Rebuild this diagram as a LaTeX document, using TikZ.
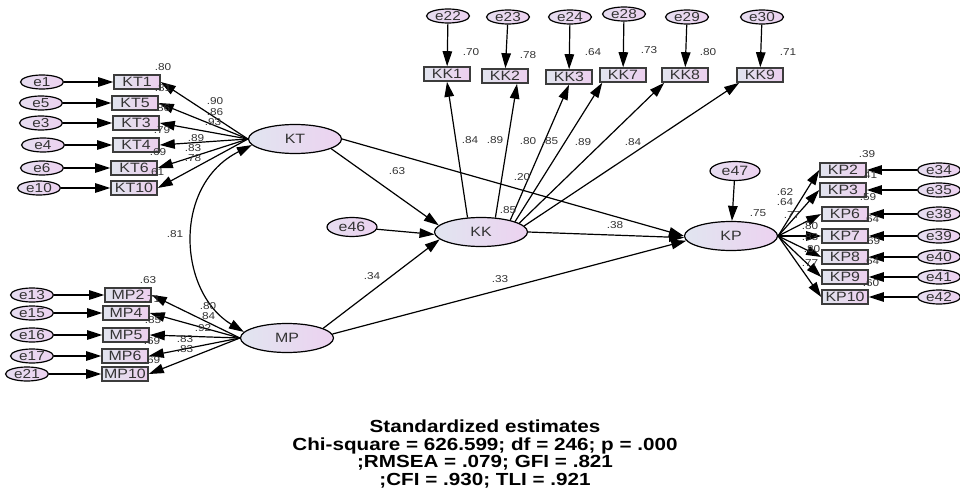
\documentclass[tikz,border=0pt]{standalone}
\usepackage{fontspec}
\setmainfont[FakeStretch=1.18]{Liberation Sans}
\usetikzlibrary{shapes.geometric,arrows.meta}
\definecolor{latL}{HTML}{E1E5F0}
\definecolor{latR}{HTML}{ECD2F0}
\definecolor{errL}{HTML}{E6DDF0}
\definecolor{boxL}{HTML}{E1E4EE}
\definecolor{boxR}{HTML}{ECCFEE}
\definecolor{bdr}{HTML}{3C3C3C}
\definecolor{txt}{HTML}{333333}
\begin{document}
\begin{tikzpicture}[x=1pt,y=-1pt,
 lat/.style={ellipse,draw=black,line width=1.2pt,left color=latL,right color=latR,minimum width=93pt,minimum height=29pt,inner sep=0pt,text=txt,font=\fontsize{13.5}{13.5}\selectfont},
 err/.style={ellipse,draw=black,line width=1.2pt,left color=errL,right color=latR,minimum width=43pt,minimum height=14pt,inner sep=0pt,text=txt,font=\fontsize{13}{13}\selectfont},
 bigerr/.style={err,minimum width=50pt,minimum height=19pt,font=\fontsize{13.5}{13.5}\selectfont},
 obs/.style={rectangle,draw=bdr,line width=1.6pt,left color=boxL,right color=boxR,minimum width=46pt,minimum height=14pt,inner sep=0pt,text=txt,font=\fontsize{13.5}{13.5}\selectfont},
 arr/.style={-{Triangle[length=15pt,width=9.5pt]},line width=1.2pt},
 darr/.style={{Triangle[length=15pt,width=9.5pt]}-{Triangle[length=15pt,width=9.5pt]},line width=1.2pt},
 lab/.style={inner sep=0pt,text=txt,font=\fontsize{10}{10}\selectfont}]
\useasboundingbox (0,0) rectangle (960,495);

% latent variables
\node[lat] (KT) at (295,139) {KT};
\node[lat] (KK) at (481,232) {KK};
\node[lat] (KP) at (731,236) {KP};
\node[lat] (MP) at (287,338) {MP};
\node[bigerr] (e46) at (352,227) {e46};
\node[bigerr] (e47) at (735,171) {e47};

% KT indicators
\foreach \e/\b/\ex/\bx/\y in {e1/KT1/42/137/82, e5/KT5/41/135/103, e3/KT3/41/136/123, e4/KT4/43/136/145, e6/KT6/42/134/168, e10/KT10/39/134/188}{
  \node[err] (\e) at (\ex,\y) {\e};
  \node[obs] (\b) at (\bx,\y) {\b};
  \draw[arr] (\e) -- (\b);
  \draw[arr] (KT.west) -- (\b.east);
}
% MP indicators
\foreach \e/\b/\ex/\bx/\y in {e13/MP2/32/128/295, e15/MP4/32/126/313, e16/MP5/32/126/335, e17/MP6/32/125/356, e21/MP10/27/125/374}{
  \node[err] (\e) at (\ex,\y) {\e};
  \node[obs] (\b) at (\bx,\y) {\b};
  \draw[arr] (\e) -- (\b);
  \draw[arr] (MP.west) -- (\b.east);
}
% KP indicators
\foreach \e/\b/\bx/\y in {e34/KP2/843/170, e35/KP3/843/190, e38/KP6/845/214, e39/KP7/845/236, e40/KP8/845/257, e41/KP9/845/277, e42/KP10/845/297}{
  \node[err] (\e) at (939,\y) {\e};
  \node[obs] (\b) at (\bx,\y) {\b};
  \draw[arr] (\e) -- (\b);
  \draw[arr] (KP.east) -- (\b.west);
}
% KK indicators
\foreach \e/\b/\ex/\bx/\ey/\by in {e22/KK1/448/447/16/74, e23/KK2/508/505/17/76, e24/KK3/570/569/17/77, e28/KK7/624/623/14/75, e29/KK8/687/685/17/75, e30/KK9/762/760/17/75}{
  \node[err] (\e) at (\ex,\ey) {\e};
  \node[obs] (\b) at (\bx,\by) {\b};
  \draw[arr] (\e) -- (\b);
}
\draw[arr] (KK.133) -- (KK1.south);
\draw[arr] (KK.45) -- ([xshift=12pt]KK2.south);
\draw[arr] (KK.22) -- (KK3.south);
\draw[arr] (KK.17) -- ([xshift=3pt]KK7.south west);
\draw[arr] (KK.13) -- ([xshift=3pt]KK8.south west);
\draw[arr] (KK.8) -- ([xshift=3pt]KK9.south west);

% structural paths
\draw[darr] (KT.188) .. controls (172,185) and (178,292) .. (MP.172);
\draw[arr] (KT.-15) -- (KK.171);
\draw[arr] (KT.east) -- (KP.west);
\draw[arr] (e46) -- (KK.183);
\draw[arr] (MP.15) -- (KK.190);
\draw[arr] (MP.5) -- (KP.186);
\draw[arr] (KK.east) -- (KP.182);
\draw[arr] (e47) -- (KP);

% labels: KT
\node[lab] (l1) at (163,67) {.80};
\node[lab] (l2) at (163,88) {.81};
\node[lab] (l3) at (162,108) {.86};
\node[lab] (l4) at (162,130) {.79};
\node[lab] (l5) at (158,152) {.69};
\node[lab] (l6) at (156,172) {.61};
\node[lab] (l7) at (215,101) {.90};
\node[lab] (l8) at (215,112) {.86};
\node[lab] (l9) at (213,122) {.93};
\node[lab] (l10) at (196,138) {.89};
\node[lab] (l11) at (193,148) {.83};
\node[lab] (l12) at (193,158) {.78};
% labels: MP
\node[lab] (l13) at (148,280) {.63};
\node[lab] (l14) at (152,299) {.71};
\node[lab] (l15) at (153,320) {.85};
\node[lab] (l16) at (152,341) {.69};
\node[lab] (l17) at (152,360) {.69};
\node[lab] (l18) at (208,306) {.80};
\node[lab] (l19) at (207,316) {.84};
\node[lab] (l20) at (203,328) {.92};
\node[lab] (l21) at (185,339) {.83};
\node[lab] (l22) at (185,349) {.83};
% labels: KK
\node[lab] (l23) at (471,52) {.70};
\node[lab] (l24) at (528,55) {.78};
\node[lab] (l25) at (593,52) {.64};
\node[lab] (l26) at (649,50) {.73};
\node[lab] (l27) at (708,52) {.80};
\node[lab] (l28) at (788,52) {.71};
\node[lab] (l29) at (470,140) {.84};
\node[lab] (l30) at (495,140) {.89};
\node[lab] (l31) at (528,141) {.80};
\node[lab] (l32) at (550,141) {.85};
\node[lab] (l33) at (583,142) {.89};
\node[lab] (l34) at (633,142) {.84};
\node[lab] (l35) at (508,210) {.85};
% labels: KP
\node[lab] (l36) at (867,154) {.39};
\node[lab] (l37) at (869,175) {.41};
\node[lab] (l38) at (868,197) {.59};
\node[lab] (l39) at (871,219) {.64};
\node[lab] (l40) at (872,241) {.69};
\node[lab] (l41) at (871,261) {.64};
\node[lab] (l42) at (871,283) {.60};
\node[lab] (l43) at (785,192) {.62};
\node[lab] (l44) at (785,202) {.64};
\node[lab] (l45) at (792,215) {.77};
\node[lab] (l46) at (810,226) {.80};
\node[lab] (l47) at (810,237) {.83};
\node[lab] (l48) at (812,249) {.80};
\node[lab] (l49) at (810,263) {.77};
\node[lab] (l50) at (758,213) {.75};
% structural labels
\node[lab] (l51) at (397,171) {.63};
\node[lab] (l52) at (522,177) {.20};
\node[lab] (l53) at (615,225) {.38};
\node[lab] (l54) at (175,234) {.81};
\node[lab] (l55) at (372,276) {.34};
\node[lab] (l56) at (500,279) {.33};

% fit statistics
\node[align=center,inner sep=0pt,font=\bfseries\fontsize{17.5}{17.8}\selectfont] (stats) at (485,454)
 {Standardized estimates\\Chi-square = 626.599; df = 246; p = .000\\;RMSEA = .079; GFI = .821\\;CFI = .930; TLI = .921};
\end{tikzpicture}
\end{document}
